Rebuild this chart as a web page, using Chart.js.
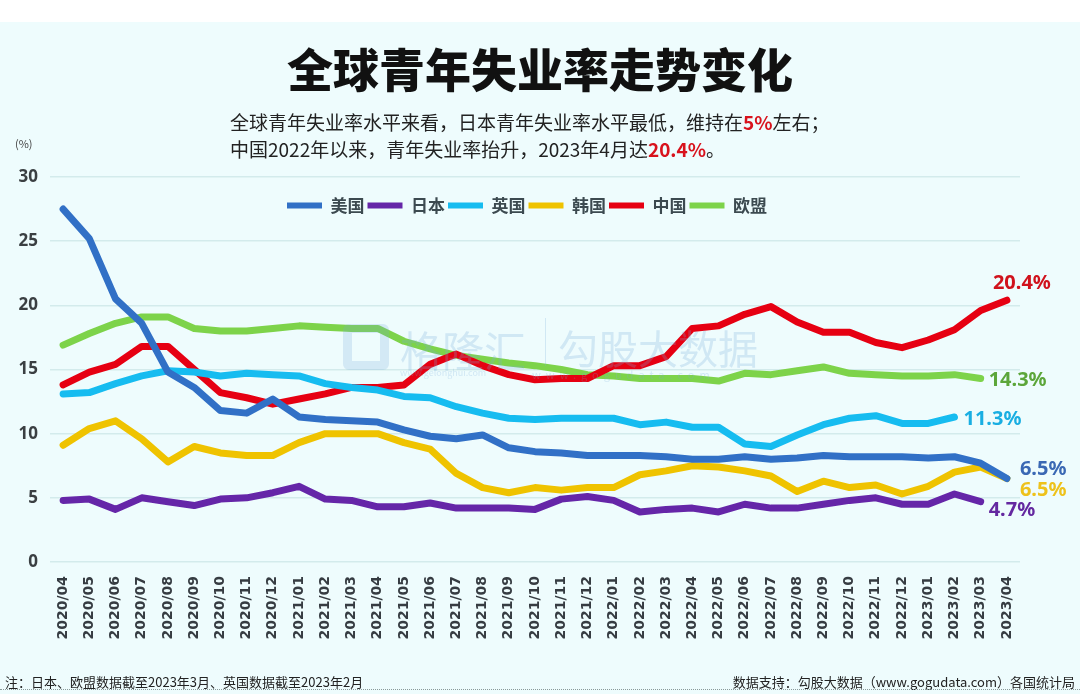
<!DOCTYPE html>
<html>
<head>
<meta charset="utf-8">
<script src="https://cdn.jsdelivr.net/npm/chart.js@4.4.0/dist/chart.umd.min.js"></script>
<style>
  html, body { margin: 0; padding: 0; }
  body {
    width: 1080px; height: 694px; position: relative; overflow: hidden;
    background: #eefcfd;
    font-family: "Noto Sans CJK SC", "Noto Sans", sans-serif;
  }
  .topband { position: absolute; left: 0; top: 0; width: 1080px; height: 22px; background: #fff; }
  #c { position: absolute; left: 0; top: 0; }
  .title { position: absolute; left: 0; width: 1080px; top: 44px; text-align: center;
    font-size: 46px; font-weight: 900; color: #111; line-height: 1; }
  .sub { position: absolute; left: 230px; font-size: 19px; color: #222; line-height: 1; white-space: nowrap; }
  .sub b { color: #d8121c; font-weight: 700; }
  .unit { position: absolute; left: 15px; top: 135px; font-size: 11px; color: #444; }
  .foot { position: absolute; top: 672px; font-size: 13px; color: #222; white-space: nowrap; }
  .dots { position: absolute; left: 0; top: 689px; width: 1080px; border-top: 1px dotted #8a9a9a; }
  .wm { position: absolute; color: rgba(120, 170, 220, 0.25); pointer-events: none; white-space: nowrap; }
</style>
</head>
<body>
<div class="topband"></div>
<canvas id="c" width="1080" height="694"></canvas>
<div class="title">全球青年失业率走势变化</div>
<div class="sub" style="top:112px">全球青年失业率水平来看，日本青年失业率水平最低，维持在<b>5%</b>左右；</div>
<div class="sub" style="top:139px">中国2022年以来，青年失业率抬升，2023年4月达<b>20.4%</b>。</div>
<div class="unit">(%)</div>
<div class="wm" style="left:343px;top:324px;width:46px;height:46px;border:9px solid rgba(120,170,220,0.22);border-radius:6px;box-sizing:border-box;"></div>
<div class="wm" style="left:400px;top:318px;font-size:42px;">格隆汇</div>
<div class="wm" style="left:400px;top:366px;font-size:9px;">www.gelonghui.com</div>
<div class="wm" style="left:545px;top:318px;font-size:1px;width:1px;height:48px;background:rgba(120,170,220,0.25);"></div>
<div class="wm" style="left:558px;top:318px;font-size:40px;">勾股大数据</div>
<div class="wm" style="left:532px;top:366px;font-size:11px;letter-spacing:5px;">www.gogudata.com</div>
<div class="foot" style="left:5px">注：日本、欧盟数据截至2023年3月、英国数据截至2023年2月</div>
<div class="foot" style="right:5px">数据支持：勾股大数据（www.gogudata.com）各国统计局</div>
<div class="dots"></div>
<script>
const months = [
  '2020/04','2020/05','2020/06','2020/07','2020/08','2020/09','2020/10','2020/11','2020/12',
  '2021/01','2021/02','2021/03','2021/04','2021/05','2021/06','2021/07','2021/08','2021/09','2021/10','2021/11','2021/12',
  '2022/01','2022/02','2022/03','2022/04','2022/05','2022/06','2022/07','2022/08','2022/09','2022/10','2022/11','2022/12',
  '2023/01','2023/02','2023/03','2023/04'
];
const usa = [27.5,25.2,20.5,18.6,14.8,13.6,11.8,11.6,12.7,
  11.3,11.1,11.0,10.9,10.3,9.8,9.6,9.9,8.9,8.6,8.5,8.3,
  8.3,8.3,8.2,8.0,8.0,8.2,8.0,8.1,8.3,8.2,8.2,8.2,
  8.1,8.2,7.7,6.5];
const japan = [4.8,4.9,4.1,5.0,4.7,4.4,4.9,5.0,5.4,
  5.9,4.9,4.8,4.3,4.3,4.6,4.2,4.2,4.2,4.1,4.9,5.1,
  4.8,3.9,4.1,4.2,3.9,4.5,4.2,4.2,4.5,4.8,5.0,4.5,
  4.5,5.3,4.7,null];
const uk = [13.1,13.2,13.9,14.5,14.9,14.8,14.5,14.7,14.6,
  14.5,13.9,13.6,13.4,12.9,12.8,12.1,11.6,11.2,11.1,11.2,11.2,
  11.2,10.7,10.9,10.5,10.5,9.2,9.0,9.9,10.7,11.2,11.4,10.8,
  10.8,11.3,null,null];
const korea = [9.1,10.4,11.0,9.6,7.8,9.0,8.5,8.3,8.3,
  9.3,10.0,10.0,10.0,9.3,8.8,6.9,5.8,5.4,5.8,5.6,5.8,
  5.8,6.8,7.1,7.5,7.4,7.1,6.7,5.5,6.3,5.8,6.0,5.3,
  5.9,7.0,7.4,6.5];
const china = [13.8,14.8,15.4,16.8,16.8,15.0,13.2,12.8,12.3,
  12.7,13.1,13.6,13.6,13.8,15.4,16.2,15.3,14.6,14.2,14.3,14.3,
  15.3,15.3,16.0,18.2,18.4,19.3,19.9,18.7,17.9,17.9,17.1,16.7,
  17.3,18.1,19.6,20.4];
const eu = [16.9,17.8,18.6,19.1,19.1,18.2,18.0,18.0,18.2,
  18.4,18.3,18.2,18.2,17.2,16.6,16.1,15.8,15.5,15.3,15.0,14.6,
  14.5,14.3,14.3,14.3,14.1,14.7,14.6,14.9,15.2,14.7,14.6,14.5,
  14.5,14.6,14.3,null];
const yTicks = [0, 5, 10, 15, 20, 25, 30];

const series = [
  { label: '美国', data: usa,   color: '#3170c6', tag: '#3a68b4', dx: 13, dy: -9 },
  { label: '日本', data: japan, color: '#6526a8', tag: '#6428a0', dx: 8,  dy: 9 },
  { label: '英国', data: uk,    color: '#16bcf0', tag: '#19aee2', dx: 9,  dy: 2 },
  { label: '韩国', data: korea, color: '#efc300', tag: '#eec21c', dx: 13, dy: 12 },
  { label: '中国', data: china, color: '#e60012', tag: '#d0121c', dx: -14, dy: -17 },
  { label: '欧盟', data: eu,    color: '#7dd34a', tag: '#5ca63a', dx: 8,  dy: 2 }
];

// legend sits inside the plot, just under the 30 gridline
const legendInside = {
  id: 'legendInside',
  afterLayout(chart) {
    const lg = chart.legend;
    const h = lg.bottom - lg.top;
    lg.top = 194;
    lg.bottom = 194 + h;
    lg.left += 17;
    lg.right += 17;
  }
};

const endLabels = {
  id: 'endLabels',
  afterDatasetsDraw(chart) {
    const ctx = chart.ctx;
    ctx.save();
    ctx.font = 'bold 20px "Noto Sans", "DejaVu Sans", sans-serif';
    ctx.textAlign = 'left';
    ctx.textBaseline = 'middle';
    chart.data.datasets.forEach((ds, i) => {
      let last = -1;
      ds.data.forEach((v, j) => { if (v !== null) last = j; });
      const pt = chart.getDatasetMeta(i).data[last];
      const s = series[i];
      ctx.fillStyle = s.tag;
      ctx.fillText(ds.data[last].toFixed(1) + '%', pt.x + s.dx, pt.y + s.dy);
    });
    ctx.restore();
  }
};

new Chart(document.getElementById('c'), {
  type: 'line',
  data: {
    labels: months,
    datasets: series.map(s => ({
      label: s.label,
      data: s.data,
      borderColor: s.color,
      backgroundColor: s.color,
      borderWidth: 7,
      borderCapStyle: 'round',
      borderJoinStyle: 'round',
      pointRadius: 0,
      pointHoverRadius: 0,
      pointStyle: 'line',
      tension: 0,
      spanGaps: false
    }))
  },
  options: {
    responsive: false,
    animation: false,
    layout: { padding: { top: 147, left: 0, right: 60, bottom: 22 } },
    plugins: {
      tooltip: { enabled: false },
      legend: {
        position: 'top',
        align: 'center',
        labels: {
          usePointStyle: true,
          pointStyleWidth: 35,
          padding: 3,
          color: '#3c4a50',
          font: { size: 17, weight: 'bold', family: '"Noto Sans CJK SC", sans-serif' },
          generateLabels: chart => Chart.defaults.plugins.legend.labels.generateLabels(chart)
            .map(item => Object.assign(item, { lineWidth: 6 }))
        }
      }
    },
    scales: {
      x: {
        offset: true,
        grid: { display: false },
        border: { display: false },
        afterFit: s => { s.height = 110; },
        ticks: {
          autoSkip: false,
          minRotation: 90,
          maxRotation: 90,
          padding: 6,
          color: '#363c42',
          font: { size: 14, weight: 'bold', family: '"DejaVu Sans", sans-serif' }
        }
      },
      y: {
        min: 0,
        max: 30,
        afterFit: s => { s.width = 50; },
        afterBuildTicks: s => { s.ticks = yTicks.map(v => ({ value: v })); },
        grid: { color: '#d3ebec', lineWidth: 1.5, drawTicks: false },
        border: { display: false },
        ticks: {
          padding: 12,
          color: '#3a3f42',
          font: { size: 17, weight: 'bold', family: '"Noto Sans", sans-serif' }
        }
      }
    }
  },
  plugins: [legendInside, endLabels]
});
</script>
</body>
</html>
